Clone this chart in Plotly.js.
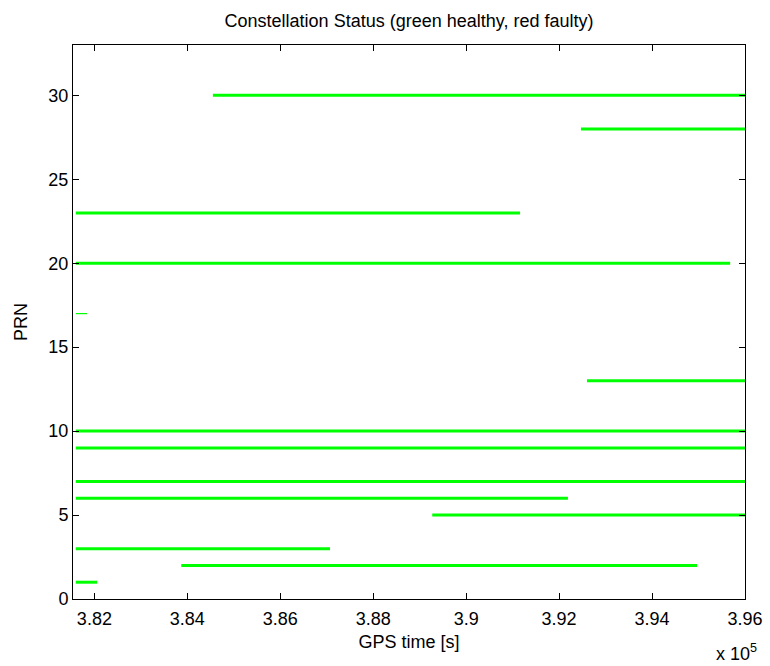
<!DOCTYPE html>
<html>
<head>
<meta charset="utf-8">
<script src="https://cdn.plot.ly/plotly-3.0.1.min.js"></script>
<style>html,body{margin:0;padding:0;background:#fff}#chart{width:770px;height:666px}</style>
</head>
<body>
<div id="chart"></div>
<script>
const prn    = [30, 28, 23, 20, 13, 10, 9, 7, 6, 5, 3, 2, 1];
const tStart = [384550, 392470, 381600, 381600, 392600, 381600, 381600, 381600, 381600, 389270, 381600, 383870, 381600];
const tEnd   = [396000, 396000, 391160, 395680, 396000, 396000, 396000, 396000, 392190, 396000, 387070, 394970, 382060];
// short isolated segment (drawn thin in the reference)
const prnShort    = [17];
const tStartShort = [381600];
const tEndShort   = [381840];
const xTickVals = [382000, 384000, 386000, 388000, 390000, 392000, 394000, 396000];
const xTickText = ['3.82', '3.84', '3.86', '3.88', '3.9', '3.92', '3.94', '3.96'];
const yTickVals = [0, 5, 10, 15, 20, 25, 30];

function segs(p, a, b) {
  const xs = [], ys = [];
  for (let i = 0; i < p.length; i++) {
    xs.push(a[i], b[i], null);
    ys.push(p[i], p[i], null);
  }
  return {xs, ys};
}
const s1 = segs(prn, tStart, tEnd);
const s2 = segs(prnShort, tStartShort, tEndShort);
const font = {family: 'Liberation Sans, Arial, sans-serif', size: 18, color: '#000'};
const traces = [
  {x: s1.xs, y: s1.ys, type: 'scatter', mode: 'lines', line: {color: '#00ff00', width: 3}, hoverinfo: 'skip'},
  {x: s2.xs, y: s2.ys, type: 'scatter', mode: 'lines', line: {color: '#00ff00', width: 1.2}, hoverinfo: 'skip'}
];
const axisCommon = {showgrid: false, zeroline: false, showline: true, linecolor: '#000', linewidth: 1,
  mirror: 'ticks', ticks: 'inside', ticklen: 6, tickcolor: '#000', tickfont: font};
const layout = {
  width: 770, height: 666,
  margin: {l: 73, r: 25, t: 45, b: 67},
  paper_bgcolor: '#fff', plot_bgcolor: '#fff',
  showlegend: false,
  font: font,
  title: {text: 'Constellation Status (green healthy, red faulty)', font: font,
    xref: 'paper', x: 0.5, xanchor: 'center', yref: 'container', y: 1 - 21 / 666, yanchor: 'middle'},
  xaxis: Object.assign({}, axisCommon, {range: [381540, 396000], tickvals: xTickVals, ticktext: xTickText,
    ticklabelstandoff: 3, title: {text: 'GPS time [s]', font: font, standoff: 7}}),
  yaxis: Object.assign({}, axisCommon, {range: [0, 33], tickvals: yTickVals,
    title: {text: 'PRN', font: font, standoff: 16}}),
  annotations: [{text: 'x 10<sup>5</sup>', xref: 'paper', yref: 'paper', x: 0.988, y: -0.072,
    xanchor: 'center', yanchor: 'top', showarrow: false, font: font}]
};
Plotly.newPlot('chart', traces, layout, {staticPlot: true, displayModeBar: false});
</script>
</body>
</html>
